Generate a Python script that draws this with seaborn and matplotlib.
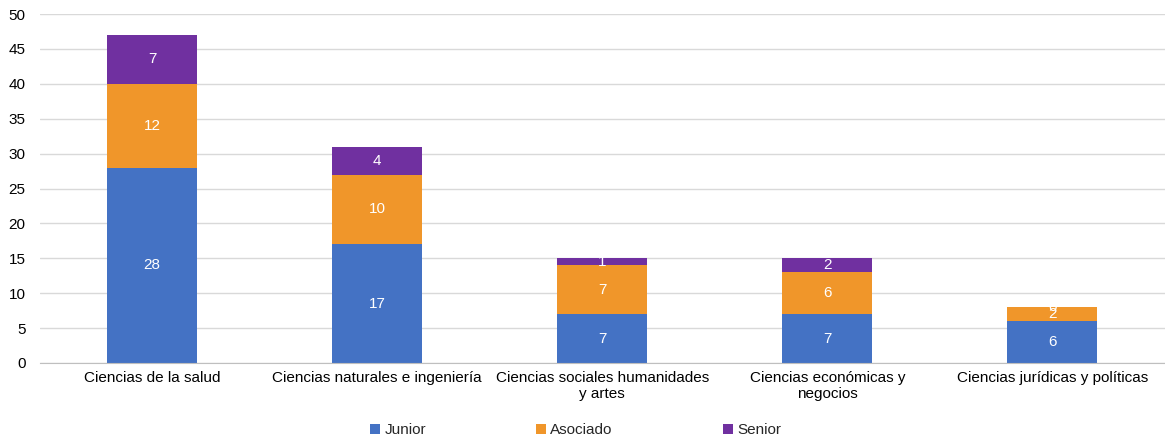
import numpy as np
import pandas as pd
import matplotlib
matplotlib.use('Agg')
import matplotlib.pyplot as plt
import seaborn as sns

categories = ['Ciencias de la salud',
              'Ciencias naturales e ingeniería',
              'Ciencias sociales humanidades\ny artes',
              'Ciencias económicas y\nnegocios',
              'Ciencias jurídicas y políticas']
junior = [28, 17, 7, 7, 6]
asociado = [12, 10, 7, 6, 2]
senior = [7, 4, 1, 2, 0]

series_names = ['Junior', 'Asociado', 'Senior']
colors = {'Junior': '#4472C4', 'Asociado': '#F0962A', 'Senior': '#7030A0'}

df = pd.DataFrame({'cat': categories, 'Junior': junior, 'Asociado': asociado, 'Senior': senior})
df['top_asociado'] = df['Junior'] + df['Asociado']
df['top_senior'] = df['top_asociado'] + df['Senior']

sns.set_style('white')
plt.rcParams['font.family'] = ['Liberation Sans', 'DejaVu Sans']

fig = plt.figure(figsize=(11.65, 4.41), dpi=100)
ax = fig.add_axes([0.034, 0.177, 0.966, 0.791])

# overlapping cumulative bars to get stacking
sns.barplot(data=df, x='cat', y='top_senior', color=colors['Senior'], width=0.4,
            saturation=1, ax=ax, label='Senior', zorder=2, linewidth=0, edgecolor='none')
sns.barplot(data=df, x='cat', y='top_asociado', color=colors['Asociado'], width=0.4,
            saturation=1, ax=ax, label='Asociado', zorder=2, linewidth=0, edgecolor='none')
sns.barplot(data=df, x='cat', y='Junior', color=colors['Junior'], width=0.4,
            saturation=1, ax=ax, label='Junior', zorder=2, linewidth=0, edgecolor='none')

handles, labels = ax.get_legend_handles_labels()
if ax.get_legend() is not None:
    ax.get_legend().remove()

# segment labels
for i, row in df.iterrows():
    bottoms = [0, row['Junior'], row['top_asociado']]
    for name, b in zip(series_names, bottoms):
        v = row[name]
        ax.text(i, b + v / 2, str(v), ha='center', va='center', color='white', fontsize=11, zorder=3)

ax.set_ylim(0, 50)
ax.set_yticks(range(0, 55, 5))
ax.set_xlim(-0.5, len(categories) - 0.5)
ax.yaxis.grid(True, color='#D9D9D9', linewidth=1, zorder=0)
ax.set_axisbelow(True)
for s in ['top', 'right', 'left']:
    ax.spines[s].set_visible(False)
ax.spines['bottom'].set_color('#BFBFBF')
ax.spines['bottom'].set_zorder(4)
ax.set_xlabel('')
ax.set_ylabel('')
ax.tick_params(axis='y', length=0, labelsize=11, labelcolor='black', pad=10)
ax.tick_params(axis='x', which='major', length=3, direction='in', color='#BFBFBF',
               labelsize=11, labelcolor='black', pad=6)
ax.set_xticks(np.arange(-0.5, len(categories), 1), minor=True)
ax.tick_params(axis='x', which='minor', length=6, direction='inout', color='#BFBFBF')

order = [labels.index(n) for n in series_names]
fig.legend([handles[k] for k in order], series_names, loc='center',
           bbox_to_anchor=(0.494, 0.024), ncol=3, frameon=False, fontsize=11,
           handlelength=0.65, handleheight=0.65, handletextpad=0.3, columnspacing=7.2)

fig.savefig('out.png', dpi=100)
